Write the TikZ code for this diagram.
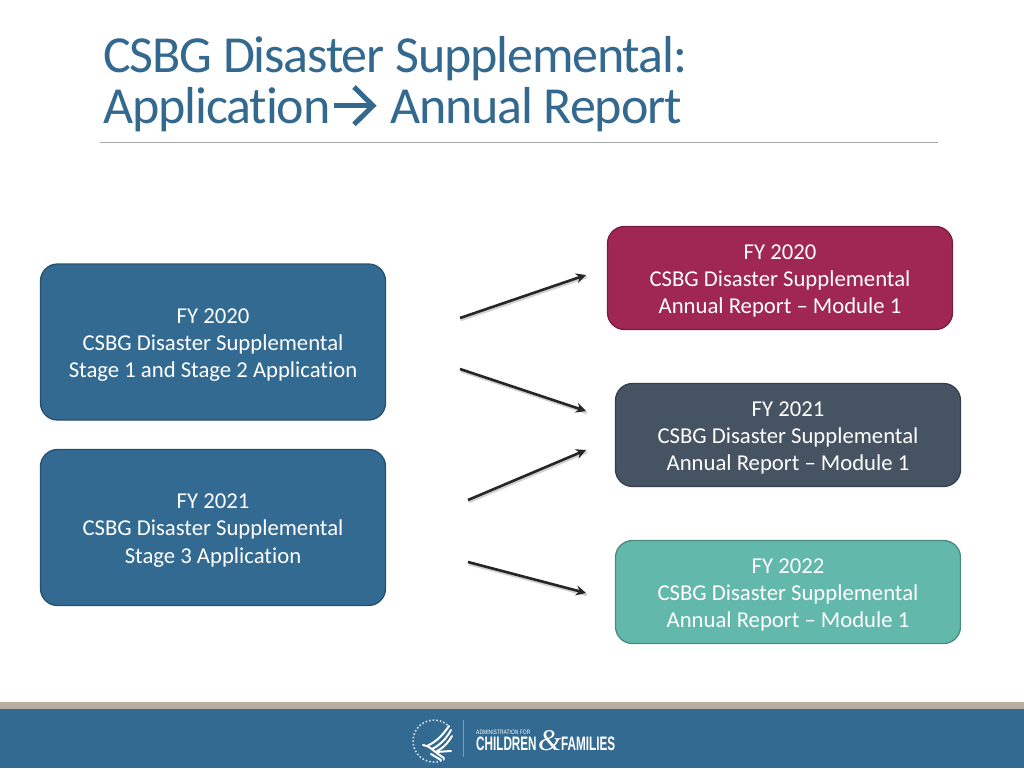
\documentclass[tikz,border=0pt]{standalone}
\usepackage{fontspec}
\setmainfont{Carlito}[Ligatures=NoCommon]
\newfontfamily\logofont[FakeStretch=0.6]{Liberation Sans}
\newfontfamily\logosmall[FakeStretch=0.78]{Liberation Sans}
\newfontfamily\logoamp[Ligatures=TeX]{Liberation Serif}
\usetikzlibrary{arrows.meta}
\definecolor{acfblue}{HTML}{336A92}
\definecolor{titleblue}{HTML}{33688F}
\definecolor{bandtan}{HTML}{B8ADA1}
\definecolor{wine}{HTML}{9F2752}
\definecolor{slate}{HTML}{465363}
\definecolor{teal}{HTML}{63B8AC}
\newcommand{\boxlines}[1]{\raisebox{-3pt}[\height][\depth]{\begin{tabular}{@{}c@{}}#1\end{tabular}}}
\tikzset{
  x=1pt,y=-1pt,
  box/.style={draw=#1!75!black,fill=#1,line width=1.3pt,rounded corners=17pt,minimum width=345pt,text=white,font=\fontsize{22.7}{27.4}\selectfont,inner sep=0pt},
  flow/.style={draw=black!85,line width=2.6pt,-{Stealth[length=10pt,width=10pt]}},
  flowshadow/.style={draw=black!18,line width=3pt},
  heading/.style={text=titleblue,anchor=base west,inner sep=0pt,font=\fontsize{52}{54}\selectfont},
  eagle/.style={draw=white,line cap=round,line width=2pt},
}
\begin{document}
\begin{tikzpicture}
\useasboundingbox (0,0) rectangle (1024,768);
\fill[white] (0,0) rectangle (1024,768);
% title
\node[heading] (t1) at (103,72) {\addfontfeatures{LetterSpace=-2.2}CSBG Disaster Supplemental:};
\node[heading] (t2) at (103,123.5) {\addfontfeatures{LetterSpace=-2.2}Application};
\node[heading] (t3) at (390,123.5) {\addfontfeatures{LetterSpace=-2.2}Annual Report};
\coordinate (ts) at (334,105.7); \coordinate (te) at (373,105.7);
\draw[titleblue,line width=5pt] (ts) -- (371,105.7);
\draw[titleblue,line width=5pt,line join=miter] (354,87) -- (te) -- (354,124.4);
\coordinate (rl) at (100,142.5); \coordinate (rr) at (938,142.5);
\draw[black!35,line width=1pt] (rl) -- (rr);
% boxes
\node[box=acfblue,minimum height=156pt] (a) at (213,342) {\boxlines{FY 2020\\CSBG Disaster Supplemental\\Stage 1 and Stage 2 Application}};
\node[box=acfblue,minimum height=156pt] (b) at (213,527.5) {\boxlines{FY 2021\\CSBG Disaster Supplemental\\Stage 3 Application}};
\node[box=wine,minimum height=103pt] (c) at (780,278) {\boxlines{FY 2020\\CSBG Disaster Supplemental\\Annual Report -- Module 1}};
\node[box=slate,minimum height=103pt] (d) at (788,435) {\boxlines{FY 2021\\CSBG Disaster Supplemental\\Annual Report -- Module 1}};
\node[box=teal,minimum height=103pt] (e) at (788,592) {\boxlines{FY 2022\\CSBG Disaster Supplemental\\Annual Report -- Module 1}};
% arrows
\coordinate (a1s) at (460,318); \coordinate (a1e) at (586,275);
\coordinate (a2s) at (460,369); \coordinate (a2e) at (586,411);
\coordinate (a3s) at (468,500); \coordinate (a3e) at (586,450);
\coordinate (a4s) at (468,562); \coordinate (a4e) at (586,593);
\foreach \p/\q in {a1s/a1e,a2s/a2e,a3s/a3e,a4s/a4e}{
  \draw[flowshadow] ([shift={(.8pt,-1.8pt)}]\p) -- ([shift={(.8pt,-1.8pt)}]\q);
  \draw[flow] (\p) -- (\q);
}
% footer
\fill[bandtan] (0,701.5) rectangle (1024,709);
\fill[acfblue] (0,709) rectangle (1024,768);
% logo
\draw[white!80!acfblue,line width=1.6pt,dotted] (447.5,725) arc[start angle=50,end angle=305,radius=21pt];
\draw[eagle] (427,746) .. controls (438,741) and (444,733) .. (449,726);
\draw[eagle] (432,749) .. controls (442,744) and (447,737) .. (451,730);
\draw[eagle] (437,751) .. controls (445,747) and (449,741) .. (452,736);
\draw[eagle] (423,745) .. controls (429,745) and (434,752) .. (444,758);
\draw[eagle] (436,752) -- (451,751);
\draw[eagle] (431,754) -- (441,760);
\coordinate (dt) at (463,720); \coordinate (db) at (463,757);
\draw[white!35!acfblue,line width=.8pt] (dt) -- (db);
\node[text=white,anchor=base west,inner sep=0pt,font=\logosmall\fontsize{6.4}{7}\selectfont] (l1) at (476,734) {ADMINISTRATION FOR};
\node[text=white,anchor=base west,inner sep=0pt,font=\logofont\bfseries\fontsize{19.5}{20}\selectfont] (l2) at (476,750.7) {CHILDREN};
\node[text=white,anchor=base west,inner sep=0pt,font=\logoamp\itshape\fontsize{30}{30}\selectfont] (l3) at (538,750) {\&};
\node[text=white,anchor=base west,inner sep=0pt,font=\logofont\bfseries\fontsize{19.5}{20}\selectfont] (l4) at (561,750.7) {FAMILIES};
\end{tikzpicture}
\end{document}
